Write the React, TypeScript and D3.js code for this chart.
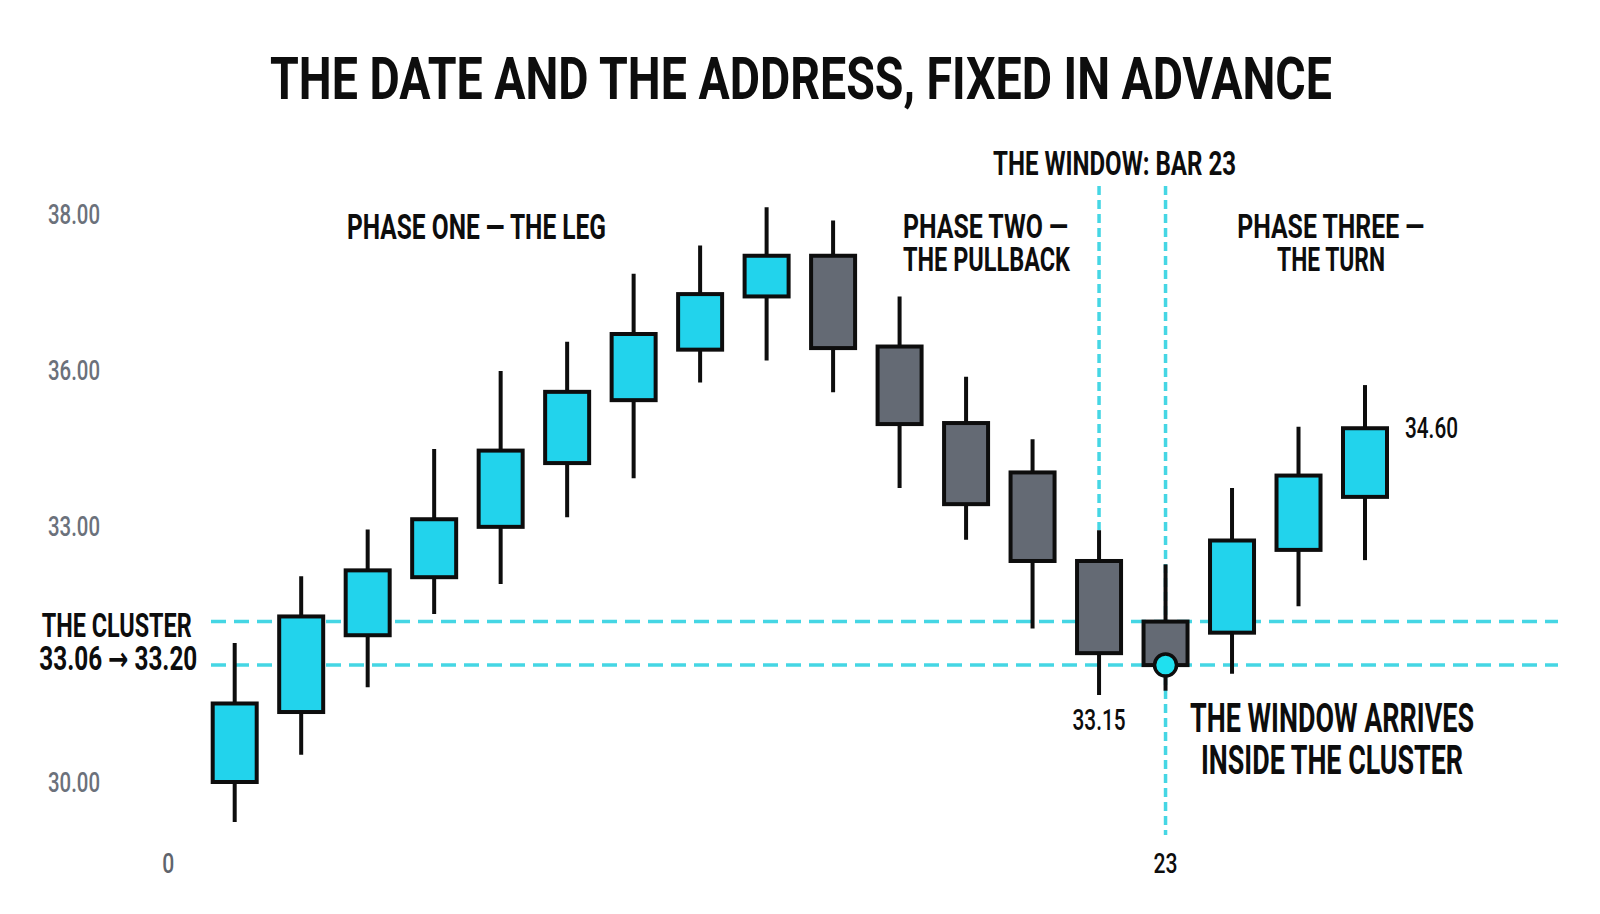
import React from "react";
import * as d3 from "d3";

// ---- data ----
const opens = [30.0, 30.82, 31.72, 32.4, 32.99, 34.21, 35.42, 36.26, 36.94, 37.46, 36.3, 34.98, 34.03, 32.59, 31.88, 31.75, 32.72, 33.56];
const highs = [31.63, 32.41, 32.96, 34.48, 35.98, 36.36, 37.23, 37.59, 38.08, 37.91, 36.94, 35.87, 34.67, 32.95, 32.55, 33.73, 34.91, 35.71];
const lows = [29.53, 30.32, 31.11, 31.97, 32.32, 33.17, 33.92, 35.76, 36.12, 35.57, 33.73, 32.84, 31.8, 31.02, 31.07, 31.27, 32.06, 32.6];
const closes = [30.92, 31.94, 32.48, 33.13, 34.45, 35.58, 36.46, 36.97, 37.46, 36.28, 34.96, 33.42, 32.59, 31.51, 31.37, 32.83, 33.97, 34.88];

const yTickValues = [38, 36, 33, 30];
const yTickLabels = ["38.00", "36.00", "33.00", "30.00"];
const xTickPositions = [-1, 14];
const xTickLabels = ["0", "23"];
const clusterLevels = [31.88, 31.37];
const windowBars = [13, 14];
const markerBar = 14;
const lowLabelBar = 13;
const lastBar = 17;

const TITLE = "THE DATE AND THE ADDRESS, FIXED IN ADVANCE";

const CYAN = "#22d3ec";
const GRAY = "#646a74";
const DASH = "#45d6e4";
const INK = "#0d0d0d";
const FONT = "Roboto, 'Open Sans', sans-serif";

export default function App() {
  const x = d3.scaleLinear().domain([0, 17]).range([234.7, 1365]);
  const y = d3.scaleLinear().domain([30, 33, 36, 38]).range([782, 526, 370, 213.5]);
  const bodyW = 44;

  const T = (props: any) => {
    const { children, w, ...rest } = props;
    return (
      <text
        fontFamily={FONT}
        fontWeight={700}
        textAnchor="middle"
        lengthAdjust="spacingAndGlyphs"
        textLength={w}
        {...rest}
      >
        {children}
      </text>
    );
  };

  return (
    <svg
      width={1600}
      height={914}
      style={{ position: "absolute", left: 0, top: 0, background: "#fff" }}
    >
      <rect x={0} y={0} width={1600} height={914} fill="#fff" />

      {/* title */}
      <T x={801} y={99} fontSize={60} w={1062} fill={INK}>{TITLE}</T>

      {/* y ticks */}
      {yTickValues.map((v, i) => (
        <T key={v} x={74} y={y(v) + 10} fontSize={28} fontWeight={500} w={52} fill="#6b717b">
          {yTickLabels[i]}
        </T>
      ))}

      {/* x ticks */}
      {xTickPositions.map((p, i) => (
        <T
          key={p}
          x={x(p)}
          y={873}
          fontSize={28}
          fontWeight={500}
          w={i === 0 ? 12 : 24}
          fill={i === 0 ? "#5f646c" : INK}
        >
          {xTickLabels[i]}
        </T>
      ))}

      {/* cluster lines */}
      {clusterLevels.map((v) => (
        <line
          key={v}
          x1={211}
          x2={1558}
          y1={y(v)}
          y2={y(v)}
          stroke={DASH}
          strokeWidth={3.5}
          strokeDasharray="15 8"
        />
      ))}

      {/* window vertical lines */}
      {windowBars.map((b, i) => (
        <line
          key={b}
          x1={x(b)}
          x2={x(b)}
          y1={186}
          y2={i === 0 ? y(highs[b]) : 835}
          stroke={DASH}
          strokeWidth={3.5}
          strokeDasharray="9 5"
        />
      ))}

      {/* candles */}
      {opens.map((o, i) => {
        const c = closes[i];
        const up = c >= o;
        const top = y(Math.max(o, c));
        const bot = y(Math.min(o, c));
        return (
          <g key={i}>
            <line x1={x(i)} x2={x(i)} y1={y(highs[i])} y2={y(lows[i])} stroke={INK} strokeWidth={4} />
            <rect
              x={x(i) - bodyW / 2}
              y={top}
              width={bodyW}
              height={bot - top}
              fill={up ? CYAN : GRAY}
              stroke={INK}
              strokeWidth={4}
            />
          </g>
        );
      })}

      {/* marker */}
      <circle cx={x(markerBar)} cy={y(closes[markerBar])} r={11} fill="#1fe0ef" stroke={INK} strokeWidth={3.5} />

      {/* annotations */}
      <T x={1114.5} y={175} fontSize={34} w={243} fill={INK}>THE WINDOW: BAR 23</T>
      <T x={476.5} y={238.5} fontSize={35} w={259} fill={INK}>PHASE ONE — THE LEG</T>
      <T x={985.5} y={237.5} fontSize={34} w={165} fill={INK}>PHASE TWO —</T>
      <T x={986.5} y={270.5} fontSize={34} w={167} fill={INK}>THE PULLBACK</T>
      <T x={1330.7} y={238.3} fontSize={34} w={187} fill={INK}>PHASE THREE —</T>
      <T x={1331} y={270.7} fontSize={34} w={108} fill={INK}>THE TURN</T>

      <T x={116.7} y={636.7} fontSize={33} w={150} fill={INK}>THE CLUSTER</T>
      <T x={118.3} y={670} fontSize={33} w={158} fill={INK}>
        33.06 <tspan fontFamily="'DejaVu Sans', sans-serif" fontWeight={700}>→</tspan> 33.20
      </T>

      <T x={x(lowLabelBar)} y={730} fontSize={29} fontWeight={500} w={53} fill={INK}>33.15</T>
      <T x={x(lastBar) + 40} y={438.3} fontSize={29} fontWeight={500} w={53} textAnchor="start" fill={INK}>34.60</T>

      <T x={1332} y={732} fontSize={40} w={284} fill={INK}>THE WINDOW ARRIVES</T>
      <T x={1332} y={774} fontSize={40} w={262} fill={INK}>INSIDE THE CLUSTER</T>
    </svg>
  );
}
